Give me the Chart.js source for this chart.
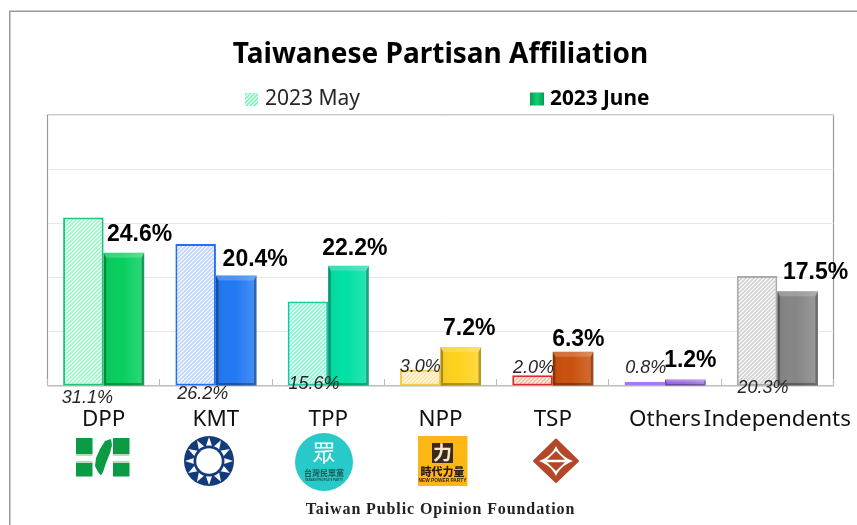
<!DOCTYPE html>
<html><head><meta charset="utf-8">
<script src="https://cdn.jsdelivr.net/npm/chart.js@4"></script>
<style>
html,body{margin:0;padding:0;background:#fff;overflow:hidden}
#wrap{position:relative;width:857px;height:525px}
canvas{position:absolute;left:0;top:0}
svg{position:absolute;left:0;top:0;pointer-events:none}
</style></head><body>
<div id="wrap"><canvas id="c" width="857" height="525"></canvas><svg id="logos" width="857" height="525"></svg></div>
<script>
const categories = ['DPP','KMT','TPP','NPP','TSP','Others','Independents'];
const seriesNames = ['2023 May','2023 June'];
const may2023 = [31.1,26.2,15.6,3.0,2.0,0.8,20.3];
const june2023 = [24.6,20.4,22.2,7.2,6.3,1.2,17.5];
const titleText = 'Taiwanese Partisan Affiliation';
const sourceText = 'Taiwan Public Opinion Foundation';

const mayBorder = ['#1cc678','#1f70f5','#14c8a0','#f8ca45','#d92a2c','#a679f2','#ababab'];
const mayStripe = ['#9ef5ca','#bdd4fa','#86f2d0','#fbe39c','#f9b89e','#d2bdf9','#d2d2d2'];
const juneColor = ['#06cf5e','#2178f2','#00e0a4','#ffd21e','#c9500c','#9a6ae0','#858585'];
const mayLabelOffset = [[4,12.5],[7,8],[6,-2],[0,-18.5],[1,-17.5],[1,-17.5],[6,2]];
const juneLabelOffset = [[15.6,-18],[19,-15.6],[6.4,-17],[8.5,-18],[5.3,-12],[5,-18.5],[18,-19]];

function stripes(color){
  const p=document.createElement('canvas');p.width=p.height=4;
  const x=p.getContext('2d');x.fillStyle='#fff';x.fillRect(0,0,4,4);
  x.strokeStyle=color;x.lineWidth=1.6;
  [[-4,4,4,-4],[0,4,4,0],[0,8,8,0]].forEach(a=>{x.beginPath();x.moveTo(a[0],a[1]);x.lineTo(a[2],a[3]);x.stroke();});
  return document.createElement('canvas').getContext('2d').createPattern(p,'repeat');
}

const decor={
  id:'decor',
  beforeDraw(chart){
    const {ctx,chartArea:a}=chart;
    ctx.save();
    ctx.fillStyle='#fff';ctx.fillRect(0,0,857,525);
    ctx.strokeStyle='#9a9a9a';ctx.lineWidth=1.5;
    ctx.beginPath();ctx.moveTo(9.75,525);ctx.lineTo(9.75,11.25);ctx.lineTo(857,11.25);ctx.stroke();
    ctx.lineWidth=1.2;
    ctx.beginPath();ctx.moveTo(a.left,a.bottom);ctx.lineTo(a.left,a.top);ctx.lineTo(a.right,a.top);ctx.lineTo(a.right,a.bottom);ctx.stroke();
    ctx.restore();
  },
  afterDatasetsDraw(chart){
    const {ctx}=chart;
    const mayBars=chart.getDatasetMeta(0).data, junBars=chart.getDatasetMeta(1).data;
    ctx.save();
    junBars.forEach(b=>{
      const l=b.x-b.width/2,r=b.x+b.width/2,t=b.y,bt=b.base,h=bt-t;
      const k=Math.min(5,h/2.5),s=Math.min(2.5,h/4);
      const g=ctx.createLinearGradient(l,0,r,0);
      g.addColorStop(0,'rgba(0,0,0,.06)');g.addColorStop(.45,'rgba(255,255,255,0)');g.addColorStop(1,'rgba(255,255,255,.18)');
      ctx.fillStyle=g;ctx.fillRect(l,t,b.width,h);
      ctx.fillStyle='rgba(255,255,255,.2)';
      ctx.beginPath();ctx.moveTo(l,t);ctx.lineTo(r,t);ctx.lineTo(r-s,t+k);ctx.lineTo(l+s,t+k);ctx.fill();
      ctx.fillStyle='rgba(0,0,0,.3)';
      ctx.beginPath();ctx.moveTo(r,t);ctx.lineTo(r,bt);ctx.lineTo(r-s,bt-s);ctx.lineTo(r-s,t+k);ctx.fill();
      ctx.beginPath();ctx.moveTo(l,t);ctx.lineTo(l,bt);ctx.lineTo(l+s,bt-s);ctx.lineTo(l+s,t+k);ctx.fill();
      ctx.beginPath();ctx.moveTo(l,bt);ctx.lineTo(r,bt);ctx.lineTo(r-s,bt-s);ctx.lineTo(l+s,bt-s);ctx.fill();
    });
    ctx.textAlign='center';ctx.textBaseline='middle';
    ctx.fillStyle='#262626';ctx.font='italic 18px "Liberation Sans"';
    mayBars.forEach((b,i)=>ctx.fillText(may2023[i].toFixed(1)+'%',b.x+mayLabelOffset[i][0],b.base+mayLabelOffset[i][1]));
    ctx.fillStyle='#000';ctx.font='bold 23px "Liberation Sans"';
    junBars.forEach((b,i)=>ctx.fillText(june2023[i].toFixed(1)+'%',b.x+juneLabelOffset[i][0],b.y+juneLabelOffset[i][1]));
    // legend
    ctx.textAlign='left';
    ctx.fillStyle=stripes('#7df2bb');ctx.fillRect(245,93,13,13);
    ctx.fillStyle='#262626';ctx.font='21px "Noto Sans"';ctx.fillText(seriesNames[0],265,99);
    const lg=ctx.createLinearGradient(530,0,544,0);lg.addColorStop(0,'#0a9a50');lg.addColorStop(.5,'#10d070');lg.addColorStop(1,'#0a9a50');
    ctx.fillStyle=lg;ctx.fillRect(530,92.5,14,13);
    ctx.fillStyle='#000';ctx.font='bold 20.8px "Noto Sans"';ctx.fillText(seriesNames[1],550,99);
    // source
    ctx.textAlign='center';ctx.fillStyle='#222';ctx.font='bold 16px "Liberation Serif"';
    ctx.letterSpacing='0.9px';ctx.fillText(sourceText,440.5,510);ctx.letterSpacing='0px';
    ctx.restore();
  }
};

new Chart(document.getElementById('c'),{
  type:'bar',
  data:{labels:categories,datasets:[
    {label:seriesNames[0],data:may2023,backgroundColor:mayStripe.map(stripes),borderColor:mayBorder,borderWidth:2,borderSkipped:false,barPercentage:1,categoryPercentage:.722},
    {label:seriesNames[1],data:june2023,backgroundColor:juneColor,borderWidth:0,barPercentage:1,categoryPercentage:.722}
  ]},
  plugins:[decor],
  options:{
    responsive:false,animation:false,
    layout:{padding:{left:47.5,right:23.5,top:0,bottom:0}},
    plugins:{
      legend:{display:false},tooltip:{enabled:false},
      title:{display:true,text:titleText,color:'#000',font:{family:'"Noto Sans"',weight:'bold',size:28},padding:{top:38,bottom:43.5},fullSize:false}
    },
    scales:{
      x:{
        afterFit(s){s.height=139;s.paddingLeft=0;s.paddingRight=0;},
        border:{color:'#bdbdbd',width:1.2},
        grid:{display:true,drawOnChartArea:false,drawTicks:true,tickLength:-7,color:'#bdbdbd'},
        ticks:{autoSkip:false,maxRotation:0,minRotation:0,padding:27,color:'#111',font:{family:'"Noto Sans"',size:22.4}}
      },
      y:{
        min:0,max:50,
        afterFit(s){s.width=0;},
        border:{display:false},
        grid:{color:'#e8e8e8',drawTicks:false,lineWidth:1},
        ticks:{display:false,stepSize:10}
      }
    }
  }
});

/* party emblems */
let kmtRays='';
for(let i=0;i<12;i++){const t=i*Math.PI/6,p=(r,d)=>[(209+r*Math.sin(t+d)).toFixed(1),(461-r*Math.cos(t+d)).toFixed(1)].join(',');
  kmtRays+=`<polygon fill="#fff" points="${p(24,0)} ${p(14,.26)} ${p(14,-.26)}"/>`;}
document.getElementById('logos').innerHTML=`
<g fill="#0c9b45">
<rect x="76" y="438" width="16.500" height="16"/><rect x="113" y="438" width="16.500" height="16"/>
<rect x="76" y="463" width="16.500" height="13.500"/><rect x="113" y="463" width="16.500" height="13.500"/>
<path d="M111 439 L105 441 L100 449 L96 458 L95 466 L98 472 L101 475.500 L103 472 L106 463 L110 453 L112 445 Z"/></g>
<g fill="#b7dcc2"><rect x="76" y="454" width="16.500" height="2"/><rect x="113" y="454" width="16.500" height="2"/><rect x="76" y="461" width="16.500" height="2"/><rect x="113" y="461" width="16.500" height="2"/></g>
<circle cx="209" cy="461" r="25" fill="#123a7c"/>${kmtRays}
<circle cx="209" cy="461" r="15.500" fill="#123a7c"/>
<circle cx="209" cy="461" r="12.800" fill="#fff"/>
<circle cx="324" cy="462" r="29" fill="#27c9c9"/>
<text x="324" y="461" text-anchor="middle" font-family="Noto Sans CJK TC" font-size="23" fill="#fff">眾</text>
<text x="324" y="476" text-anchor="middle" font-family="Noto Sans CJK TC" font-weight="700" font-size="8" fill="#20504f">台灣民眾黨</text>
<text x="324" y="481" text-anchor="middle" font-family="Liberation Sans" font-weight="700" font-size="3" fill="#20504f">TAIWAN PEOPLE'S PARTY</text>
<rect x="418" y="436" width="49.500" height="50" fill="#fdb714"/>
<rect x="432" y="443" width="21" height="20" fill="#3a2a1c"/>
<text x="442.500" y="460" text-anchor="middle" font-family="Noto Sans CJK TC" font-weight="700" font-size="19" fill="#f7e9c8">力</text>
<text x="442.500" y="476" text-anchor="middle" font-family="Noto Sans CJK TC" font-weight="900" font-size="11" fill="#2b1d10">時代力量</text>
<text x="442.500" y="482" text-anchor="middle" font-family="Liberation Sans" font-weight="700" font-size="4.800" fill="#2b1d10">NEW POWER PARTY</text>
<path d="M556 439.500 L578 461 L556 482 L534 461 Z" fill="#b4472a" stroke="#b4472a" stroke-width="2" stroke-linejoin="round"/>
<path d="M556 446 C559 453 565 458 573 461 C565 464 559 469 556 476 C553 469 547 464 539 461 C547 458 553 453 556 446 Z" fill="#fff"/>
<path d="M556 451 L565 459.800 L547 459.800 Z" fill="#b4472a"/>
<path d="M556 471 L565 462.200 L547 462.200 Z" fill="#b4472a"/>`;
</script>
</body></html>
